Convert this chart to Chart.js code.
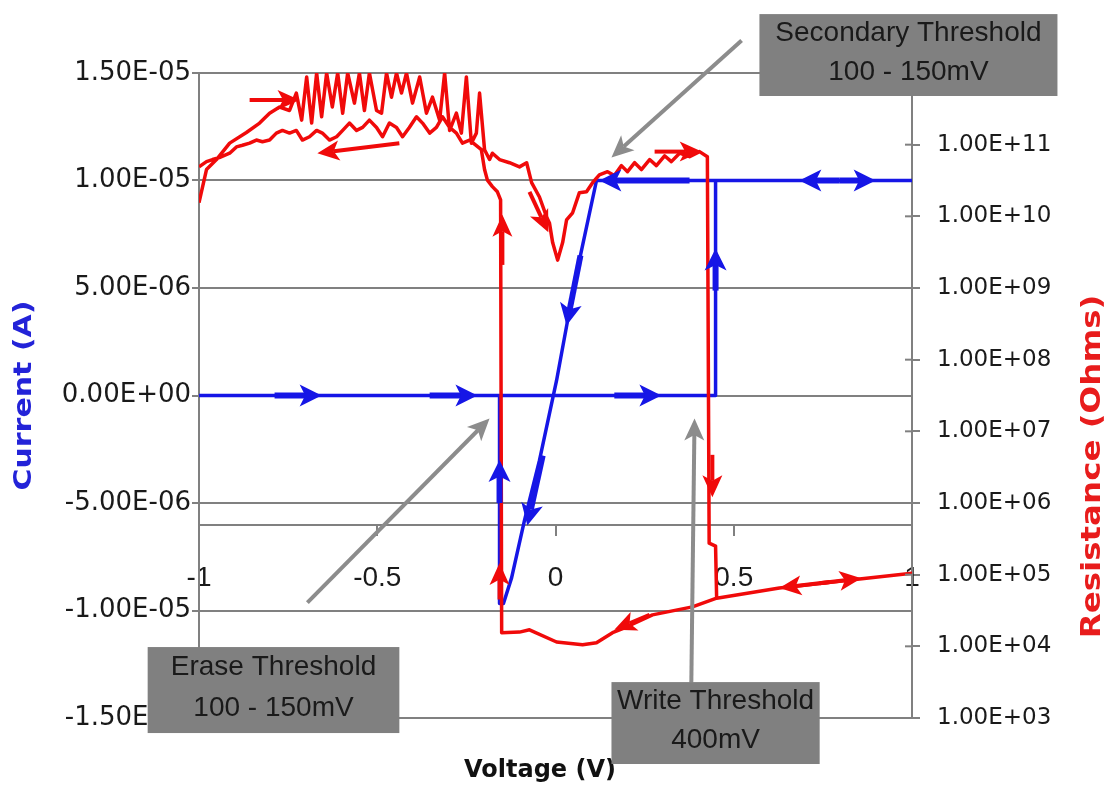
<!DOCTYPE html>
<html><head><meta charset="utf-8">
<script src="https://cdn.jsdelivr.net/npm/chart.js@4.4.0/dist/chart.umd.min.js"></script>
<style>html,body{margin:0;padding:0;background:#fff;overflow:hidden}</style>
</head><body>
<canvas id="c" width="1107" height="792"></canvas>
<script>
// ---------- data ----------
const currentV = [-1, 0.44, 0.449, 0.449, 1, 0.115, 0.067, 0.034, 0.003, -0.045, -0.087, -0.123, -0.146, -0.157, -0.157, -1];
const currentI = [0, 0, 0, 1.0e-5, 1.0e-5, 1.0e-5, 6.28e-6, 3.49e-6, 0.70e-6, -3.02e-6, -5.81e-6, -8.47e-6, -9.67e-6, -9.67e-6, 0, 0];

const resistV = [
 -1.0,-0.979,-0.951,-0.914,-0.867,-0.830,-0.802,-0.774,-0.746,-0.727,-0.712,-0.698,-0.684,-0.670,-0.656,-0.642,-0.626,-0.611,-0.597,-0.583,
 -0.564,-0.550,-0.536,-0.522,-0.502,-0.488,-0.474,-0.460,-0.446,-0.432,-0.418,-0.401,-0.381,-0.362,-0.345,-0.325,-0.311,-0.297,-0.278,-0.264,
 -0.250,-0.236,-0.222,-0.213,-0.199,-0.185,-0.177,-0.157,-0.129,-0.101,-0.081,-0.067,-0.045,-0.025,-0.017,-0.008,0.006,0.020,0.031,0.048,
 0.067,0.087,0.104,0.123,0.146,0.165,0.185,0.202,0.222,0.241,0.264,0.283,0.306,0.325,0.348,0.376,0.404,0.426,
 0.431,0.449,0.452,0.628,0.853,1.0,
 0.853,0.628,0.452,0.384,0.272,0.199,0.160,0.115,0.076,0.003,-0.073,-0.101,-0.151,
 -0.154,-0.163,-0.177,-0.191,-0.199,-0.208,
 -0.241,-0.261,-0.278,-0.297,-0.317,-0.334,-0.353,-0.373,-0.390,-0.410,-0.429,-0.446,-0.466,-0.485,-0.502,-0.522,-0.541,-0.558,-0.578,-0.597,
 -0.614,-0.634,-0.654,-0.670,-0.690,-0.710,-0.727,-0.746,-0.766,-0.783,-0.802,-0.822,-0.839,-0.858,-0.878,-0.895,-0.914,-0.943,-0.962,-0.979,-1.0
];
const resistR = [
 1.55e10,4.5e10,6.2e10,1.05e11,1.48e11,2.0e11,2.75e11,3.35e11,3.0e11,5.25e11,2.2e11,8.8e11,2.0e11,1.0e12,2.45e11,1.0e12,3.35e11,1.0e12,2.75e11,1.0e12,
 3.8e11,1.0e12,3.0e11,1.0e12,3.0e11,2.75e11,1.0e12,4.6e11,1.0e12,5.25e11,1.0e12,3.8e11,8.8e11,2.75e11,4.6e11,2.2e11,1.0e12,1.58e11,2.75e11,1.45e11,
 8.8e11,1.05e11,1.45e11,5.25e11,8.5e10,6.2e10,7.6e10,6.2e10,5.6e10,4.9e10,5.6e10,2.95e10,1.86e10,9.8e9,8.1e9,4.3e9,2.45e9,4.3e9,8.9e9,1.12e10,
 2.14e10,2.2e10,2.95e10,3.8e10,4.2e10,3.7e10,5.1e10,4.2e10,5.6e10,4.5e10,6.2e10,5.1e10,7.0e10,5.8e10,7.6e10,6.8e10,8.0e10,6.8e10,
 2.75e5,2.5e5,4.7e4,6.5e4,8.7e4,1.05e5,
 8.7e4,6.5e4,4.7e4,3.55e4,2.75e4,1.86e4,1.55e4,1.12e4,1.05e4,1.15e4,1.7e4,1.58e4,1.55e4,
 1.7e10,2.2e10,2.6e10,3.2e10,4.5e10,8.5e10,
 1.16e11,1.05e11,1.45e11,1.74e11,2.45e11,1.74e11,1.45e11,2.0e11,2.45e11,1.74e11,1.29e11,1.74e11,2.0e11,1.29e11,1.74e11,2.2e11,1.74e11,1.58e11,2.0e11,1.58e11,
 1.29e11,1.16e11,1.45e11,1.58e11,1.29e11,1.16e11,1.58e11,1.45e11,1.58e11,1.45e11,1.16e11,1.1e11,1.16e11,1.05e11,9.8e10,9.3e10,7.6e10,6.6e10,6.2e10,5.8e10,4.9e10
];

const xTicks = [-1, -0.5, 0, 0.5, 1];
const currentTicks = [-1.5e-5, -1e-5, -5e-6, 0, 5e-6, 1e-5, 1.5e-5];
const resistTicks = [1e3, 1e4, 1e5, 1e6, 1e7, 1e8, 1e9, 1e10, 1e11];

// direction arrows drawn on the curves: [fromV, fromVal, toV, toVal]
const redArrows = [
 [-0.858, 4.2e11, -0.718, 4.2e11],
 [-0.438, 1.05e11, -0.668, 7.6e10],
 [-0.073, 2.2e10, -0.020, 6.0e9],
 [-0.149, 2.1e9, -0.149, 1.05e10],
 [0.278, 8.0e10, 0.410, 8.0e10],
 [0.440, 4.7e6, 0.440, 1.2e6],
 [-0.157, 4.5e4, -0.157, 1.45e5],
 [0.264, 2.75e4, 0.165, 1.7e4],
 [0.769, 7.9e4, 0.628, 6.5e4],
 [0.741, 7.6e4, 0.858, 8.9e4]
];
const blueArrows = [
 [-0.788, 0, -0.656, 0],
 [-0.353, 0, -0.219, 0],
 [0.165, 0, 0.297, 0],
 [0.449, 4.88e-6, 0.449, 6.84e-6],
 [0.376, 1e-5, 0.123, 1e-5],
 [0.797, 1e-5, 0.684, 1e-5],
 [0.797, 1e-5, 0.898, 1e-5],
 [0.070, 6.51e-6, 0.031, 3.26e-6],
 [-0.036, -2.79e-6, -0.079, -6.05e-6],
 [-0.157, -5.0e-6, -0.157, -3.0e-6]
];
// callouts (in V / current units)
const calloutArrows = [
 [0.522, 1.651e-5, 0.157, 1.107e-5],
 [-0.696, -9.63e-6, -0.185, -1.07e-6],
 [0.381, -1.335e-5, 0.390, -1.07e-6]
];
const calloutBoxes = [
 {lines: ['Secondary Threshold', '100 - 150mV'], v0: 0.572, v1: 1.408, i0: 1.774e-5, i1: 1.393e-5},
 {lines: ['Erase Threshold', '100 - 150mV'], v0: -1.144, v1: -0.438, i0: -1.170e-5, i1: -1.570e-5},
 {lines: ['Write Threshold', '400mV'], v0: 0.157, v1: 0.741, i0: -1.333e-5, i1: -1.714e-5}
];

// ---------- styles ----------
const RED = '#f00a0a', BLUE = '#1616e6', GRID = '#808080', CALL = '#8c8c8c';
const TICKFONT = '"DejaVu Sans", Verdana, sans-serif';
const ARIAL = '"Liberation Sans", Arial, sans-serif';

function sci(v) {
  if (Math.abs(v) < 1e-15) v = 0;
  const s = v.toExponential(2);
  const parts = s.split('e');
  const sign = parts[1][0] === '-' ? '-' : '+';
  let d = parts[1].replace(/^[+-]/, '');
  if (d.length < 2) d = '0' + d;
  return parts[0] + 'E' + sign + d;
}

function arrow(ctx, x1, y1, x2, y2, color, lw, hl, hw) {
  const a = Math.atan2(y2 - y1, x2 - x1);
  const c = Math.cos(a), s = Math.sin(a);
  const bx = x2 - hl * c, by = y2 - hl * s;
  const nx = x2 - hl * 0.75 * c, ny = y2 - hl * 0.75 * s;
  ctx.save();
  ctx.strokeStyle = color; ctx.fillStyle = color; ctx.lineWidth = lw; ctx.lineCap = 'butt';
  ctx.beginPath(); ctx.moveTo(x1, y1); ctx.lineTo(nx, ny); ctx.stroke();
  ctx.beginPath();
  ctx.moveTo(x2, y2);
  ctx.lineTo(bx - hw * s, by + hw * c);
  ctx.lineTo(nx, ny);
  ctx.lineTo(bx + hw * s, by - hw * c);
  ctx.closePath(); ctx.fill();
  ctx.restore();
}

function vText(ctx, text, x, y, font, color, stretch) {
  ctx.save();
  ctx.translate(x, y); ctx.rotate(-Math.PI / 2); ctx.scale(stretch, 1);
  ctx.font = font; ctx.fillStyle = color; ctx.textAlign = 'center'; ctx.textBaseline = 'middle';
  ctx.fillText(text, 0, 0);
  ctx.restore();
}

const overlay = {
  id: 'overlay',
  afterDatasetsDraw(chart) {
    const ctx = chart.ctx, X = chart.scales.x, Y = chart.scales.y, R = chart.scales.y2;
    redArrows.forEach(a => arrow(ctx, X.getPixelForValue(a[0]), R.getPixelForValue(a[1]), X.getPixelForValue(a[2]), R.getPixelForValue(a[3]), RED, 4, 22, 10));
    blueArrows.forEach(a => arrow(ctx, X.getPixelForValue(a[0]), Y.getPixelForValue(a[1]), X.getPixelForValue(a[2]), Y.getPixelForValue(a[3]), BLUE, 6, 22, 11));
  },
  afterDraw(chart) {
    const ctx = chart.ctx, X = chart.scales.x, Y = chart.scales.y, R = chart.scales.y2, ca = chart.chartArea;
    // inner half of right-axis ticks
    ctx.save(); ctx.strokeStyle = GRID; ctx.lineWidth = 2;
    resistTicks.forEach(v => { const p = R.getPixelForValue(v); ctx.beginPath(); ctx.moveTo(ca.right - 7, p); ctx.lineTo(ca.right, p); ctx.stroke(); });
    ctx.restore();
    // axis titles
    vText(ctx, 'Current (A)', 24, (ca.top + ca.bottom) / 2, 'bold 25px ' + TICKFONT, '#2323d8', 1.2);
    vText(ctx, 'Resistance (Ohms)', 1093, ca.top + (ca.bottom - ca.top) * 0.61, 'bold 26px ' + TICKFONT, '#e81c1c', 1.25);
    ctx.save(); ctx.font = 'bold 24px ' + TICKFONT; ctx.fillStyle = '#111'; ctx.textAlign = 'center'; ctx.textBaseline = 'middle';
    ctx.fillText('Voltage (V)', 540, 771); ctx.restore();
    // callout arrows
    calloutArrows.forEach(a => arrow(ctx, X.getPixelForValue(a[0]), Y.getPixelForValue(a[1]), X.getPixelForValue(a[2]), Y.getPixelForValue(a[3]), CALL, 4, 22, 10));
    // callout boxes
    calloutBoxes.forEach(b => {
      const x0 = X.getPixelForValue(b.v0), x1 = X.getPixelForValue(b.v1);
      const y0 = Y.getPixelForValue(b.i0), y1 = Y.getPixelForValue(b.i1);
      const h = y1 - y0;
      ctx.save();
      ctx.fillStyle = '#808080'; ctx.fillRect(x0, y0, x1 - x0, h);
      ctx.font = '28px ' + ARIAL; ctx.fillStyle = '#1a1a1a'; ctx.textAlign = 'center'; ctx.textBaseline = 'middle';
      ctx.fillText(b.lines[0], (x0 + x1) / 2, y0 + h * 0.24);
      ctx.fillText(b.lines[1], (x0 + x1) / 2, y0 + h * 0.71);
      ctx.restore();
    });
  }
};

new Chart(document.getElementById('c'), {
  type: 'scatter',
  data: {
    datasets: [
      { label: 'Resistance (Ohms)', data: resistV.map((v, i) => ({x: v, y: resistR[i]})), yAxisID: 'y2', showLine: true,
        borderColor: RED, backgroundColor: RED, borderWidth: 3.5, pointRadius: 0, tension: 0, borderJoinStyle: 'round' },
      { label: 'Current (A)', data: currentV.map((v, i) => ({x: v, y: currentI[i]})), yAxisID: 'y', showLine: true,
        borderColor: BLUE, backgroundColor: BLUE, borderWidth: 3.5, pointRadius: 0, tension: 0, borderJoinStyle: 'round' }
    ]
  },
  options: {
    responsive: false, animation: false, devicePixelRatio: 1,
    layout: {padding: {top: 73, bottom: 74, left: 0, right: 0}},
    plugins: {legend: {display: false}, tooltip: {enabled: false}},
    scales: {
      x: {
        type: 'linear', position: {y: -6e-6}, min: -1, max: 1,
        afterBuildTicks: s => { s.ticks = xTicks.map(v => ({value: v})); },
        ticks: {font: {family: ARIAL, size: 28}, color: '#1a1a1a', padding: 27, maxRotation: 0, autoSkip: false, callback: v => String(v)},
        grid: {drawOnChartArea: false, tickLength: 10, color: GRID, lineWidth: 2},
        border: {display: true, color: GRID, width: 2}
      },
      y: {
        type: 'linear', position: 'left', min: -1.5e-5, max: 1.5e-5,
        afterBuildTicks: s => { s.ticks = currentTicks.map(v => ({value: v})); },
        afterFit: s => { s.width = 199; },
        ticks: {font: {family: TICKFONT, size: 26}, color: '#1a1a1a', padding: 1, autoSkip: false, callback: v => sci(v)},
        grid: {color: GRID, lineWidth: 2, tickLength: 7},
        border: {display: true, color: GRID, width: 2}
      },
      y2: {
        type: 'logarithmic', position: 'right', min: 1e3, max: 1e12,
        afterBuildTicks: s => { s.ticks = resistTicks.map(v => ({value: v})); },
        afterFit: s => { s.width = 195; },
        ticks: {font: {family: TICKFONT, size: 23}, color: '#1a1a1a', padding: 17, autoSkip: false, callback: v => sci(v)},
        grid: {drawOnChartArea: false, color: GRID, lineWidth: 2, tickLength: 8},
        border: {display: true, color: GRID, width: 2}
      }
    }
  },
  plugins: [overlay]
});
</script>
</body></html>
